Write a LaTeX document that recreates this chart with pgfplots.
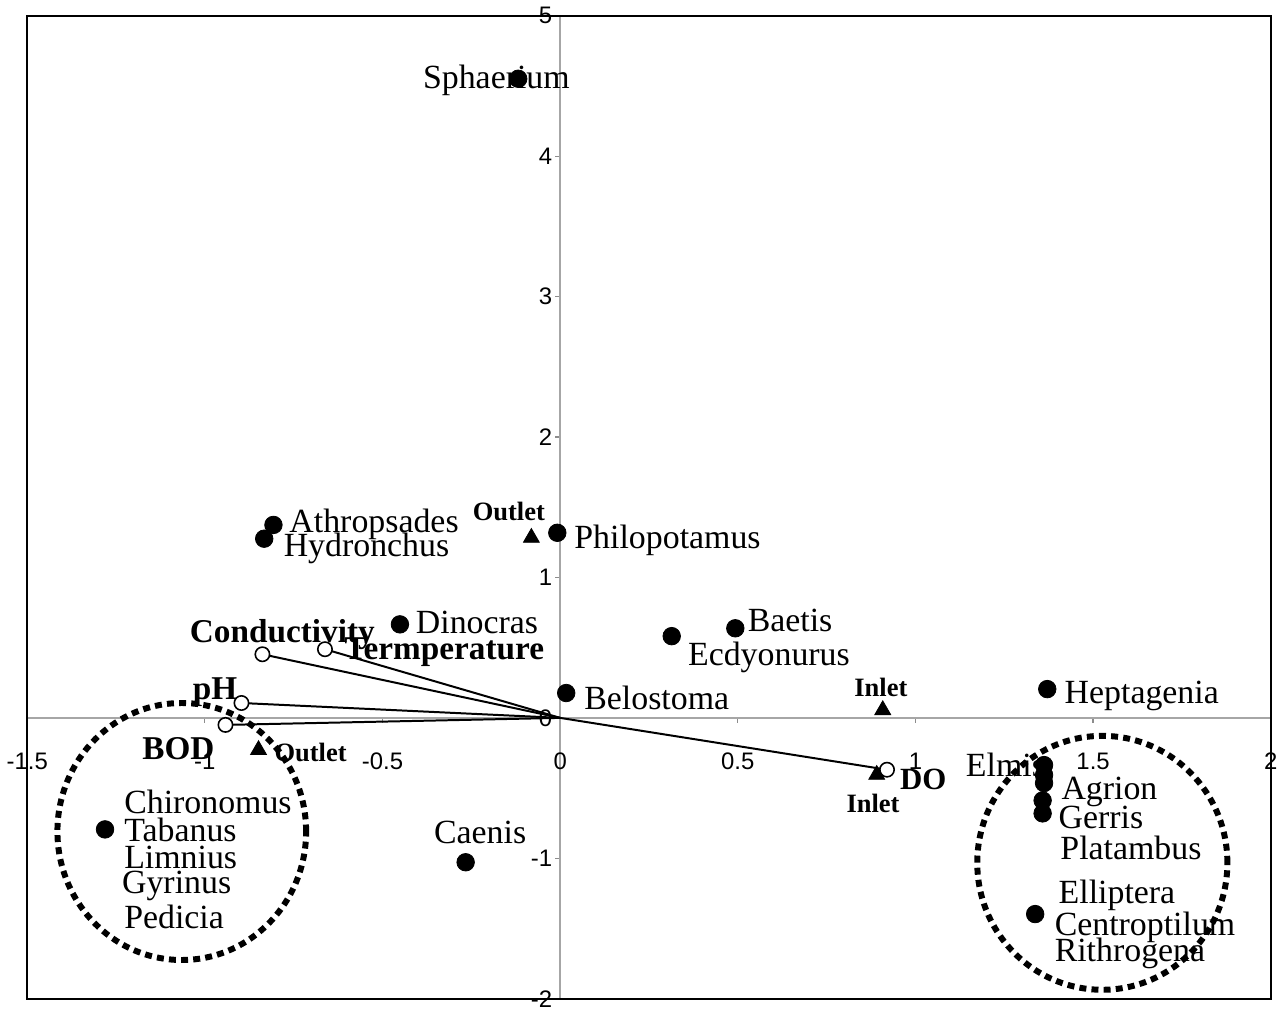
\documentclass[border=0pt]{standalone}
\usepackage{pgfplots}
\pgfplotsset{compat=1.18}
\usepackage{fontspec}
\setmainfont{Liberation Serif}
\setsansfont{Liberation Sans}

\begin{document}
\begin{tikzpicture}[
  sp/.style={anchor=base west, inner sep=0pt, yshift=-7pt, font=\fontsize{17}{17}\selectfont},
  bl/.style={anchor=base west, inner sep=0pt, yshift=-7pt, font=\bfseries\fontsize{16.7}{16.7}\selectfont},
  st/.style={anchor=base west, inner sep=0pt, yshift=-6pt, font=\bfseries\fontsize{13.3}{13.3}\selectfont}]
\begin{axis}[name=ax, scale only axis, width=624.5pt, height=493.7pt,
  xmin=-1.5, xmax=2, ymin=-2, ymax=5,
  axis lines=middle, axis line style={-, black!35, line width=0.7pt},
  xtick={-1.5,-1,-0.5,0,0.5,1,1.5,2}, xticklabels={-1.5,-1,-0.5,0,0.5,1,1.5,2},
  ytick={-2,-1,0,1,2,3,4,5}, yticklabels={-2,-1,0,1,2,3,4,5},
  tick align=outside, major tick length=2.5pt, tick style={black!45, line width=0.6pt},
  ticklabel style={font=\sffamily\fontsize{12}{12}\selectfont},
  xticklabel style={yshift=-11.5pt},
  yticklabel style={xshift=2pt},
  hide obscured x ticks=false, hide obscured y ticks=false,
  clip=false, enlargelimits=false]

% frame
\draw[line width=1.2pt] (rel axis cs:0,0) rectangle (rel axis cs:1,1);

% dotted ellipses
\draw[line width=3pt, dash pattern=on 3.5pt off 2.6pt] (axis cs:-1.065,-0.809) ellipse [x radius=0.350, y radius=0.915];
\draw[line width=3pt, dash pattern=on 3.5pt off 2.6pt] (axis cs:1.526,-1.032) ellipse [x radius=0.352, y radius=0.904];

% environmental vectors
\addplot[black, line width=1pt, mark=*, mark indices={2}, mark size=3.6pt, mark options={fill=white, line width=0.8pt}] coordinates {(0,0) (-0.838,0.453)};
\addplot[black, line width=1pt, mark=*, mark indices={2}, mark size=3.6pt, mark options={fill=white, line width=0.8pt}] coordinates {(0,0) (-0.662,0.489)};
\addplot[black, line width=1pt, mark=*, mark indices={2}, mark size=3.6pt, mark options={fill=white, line width=0.8pt}] coordinates {(0,0) (-0.897,0.106)};
\addplot[black, line width=1pt, mark=*, mark indices={2}, mark size=3.6pt, mark options={fill=white, line width=0.8pt}] coordinates {(0,0) (-0.942,-0.050)};
\addplot[black, line width=1pt, mark=*, mark indices={2}, mark size=3.6pt, mark options={fill=white, line width=0.8pt}] coordinates {(0,0) (0.920,-0.369)};

% sites
\addplot[only marks, mark=triangle*, mark size=4.6pt, black] coordinates {
(-0.081,1.283) (-0.849,-0.228) (0.908,0.056) (0.891,-0.405)};

% species
\addplot[only marks, mark=*, mark size=4.4pt, black] coordinates {
(-0.118,4.551) (-0.807,1.374) (-0.833,1.276) (-0.008,1.318) (-0.451,0.666)
(0.493,0.638) (0.314,0.582) (0.017,0.177) (1.371,0.205)
(1.362,-0.336) (1.362,-0.407) (1.362,-0.464) (1.358,-0.588) (1.358,-0.680)
(1.337,-1.397) (-1.281,-0.794) (-0.266,-1.028)};

% species labels
\node[sp] at (axis cs:-0.387,4.579) {Sphaerium};
\node[sp] at (axis cs:-0.763,1.418) {Athropsades};
\node[sp] at (axis cs:-0.779,1.247) {Hydronchus};
\node[sp] at (axis cs:0.039,1.304) {Philopotamus};
\node[sp] at (axis cs:-0.407,0.701) {Dinocras};
\node[sp] at (axis cs:0.527,0.715) {Baetis};
\node[sp] at (axis cs:0.359,0.474) {Ecdyonurus};
\node[sp] at (axis cs:0.067,0.162) {Belostoma};
\node[sp] at (axis cs:1.419,0.205) {Heptagenia};
\node[sp] at (axis cs:1.141,-0.319) {Elmis};
\node[sp] at (axis cs:1.410,-0.482) {Agrion};
\node[sp] at (axis cs:1.402,-0.688) {Gerris};
\node[sp] at (axis cs:1.407,-0.908) {Platambus};
\node[sp] at (axis cs:1.402,-1.220) {Elliptera};
\node[sp] at (axis cs:1.391,-1.447) {Centroptilum};
\node[sp] at (axis cs:1.391,-1.638) {Rithrogena};
\node[sp] at (axis cs:-1.228,-0.582) {Chironomus};
\node[sp] at (axis cs:-1.228,-0.780) {Tabanus};
\node[sp] at (axis cs:-1.228,-0.972) {Limnius};
\node[sp] at (axis cs:-1.234,-1.149) {Gyrinus};
\node[sp] at (axis cs:-1.228,-1.397) {Pedicia};
\node[sp] at (axis cs:-0.356,-0.795) {Caenis};

% variable labels
\node[bl] at (axis cs:-1.043,0.637) {Conductivity};
\node[bl] at (axis cs:-0.608,0.517) {Termperature};
\node[bl] at (axis cs:-1.035,0.233) {pH};
\node[bl] at (axis cs:-1.177,-0.199) {BOD};
\node[bl, font=\bfseries\fontsize{15.5}{15.5}\selectfont] at (axis cs:0.956,-0.412) {DO};

% site labels
\node[st] at (axis cs:-0.247,1.488) {Outlet};
\node[st] at (axis cs:-0.805,-0.228) {Outlet};
\node[st] at (axis cs:0.827,0.240) {Inlet};
\node[st] at (axis cs:0.805,-0.589) {Inlet};
\end{axis}
\path ([xshift=-13.5pt,yshift=-5pt]ax.south west) rectangle ([xshift=4pt,yshift=7.9pt]ax.north east);
\end{tikzpicture}
\end{document}
